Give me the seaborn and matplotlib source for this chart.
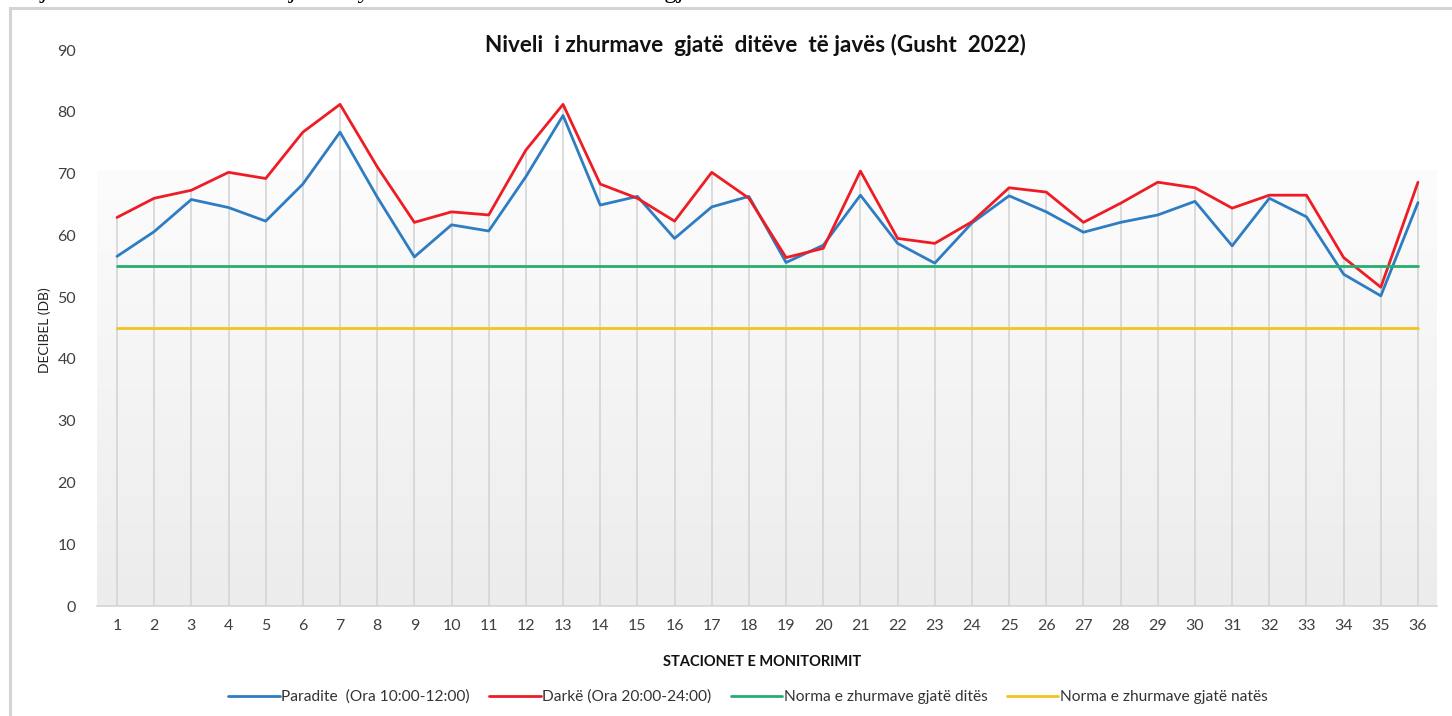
import numpy as np
import pandas as pd
import matplotlib
matplotlib.use("Agg")
import matplotlib.pyplot as plt
from matplotlib.patches import Rectangle
from matplotlib.lines import Line2D
import seaborn as sns

stations = list(range(1, 37))
paradite = [56.6, 60.6, 65.8, 64.5, 62.3, 68.3, 76.7, 66.2, 56.5, 61.7, 60.7, 69.5,
            79.4, 64.9, 66.3, 59.5, 64.6, 66.3, 55.6, 58.4, 66.5, 58.7, 55.5, 62.0,
            66.4, 63.8, 60.5, 62.1, 63.3, 65.5, 58.3, 66.0, 63.0, 53.7, 50.2, 65.3]
darke = [62.9, 66.0, 67.3, 70.2, 69.2, 76.7, 81.2, 71.1, 62.1, 63.8, 63.3, 73.8,
         81.2, 68.3, 66.0, 62.3, 70.2, 66.0, 56.4, 57.9, 70.4, 59.5, 58.7, 62.2,
         67.7, 67.0, 62.1, 65.2, 68.6, 67.7, 64.4, 66.5, 66.5, 56.4, 51.6, 68.6]
norma_dites = [55] * 36
norma_nates = [45] * 36

labels = ["Paradite  (Ora 10:00-12:00)", "Darkë (Ora 20:00-24:00)",
          "Norma e zhurmave gjatë ditës", "Norma e zhurmave gjatë natës"]
colors = ["#2e7dc2", "#ee1c25", "#27ae6e", "#f3c41a"]
title = "Niveli  i zhurmave  gjatë  ditëve  të javës (Gusht  2022)"
xlabel = "STACIONET E MONITORIMIT"
ylabel = "DECIBEL (DB)"
yticks = list(range(0, 91, 10))
caption = "Matjet e nivelit të zhurmave janë kryer në stacionet e monitorimit gjatë ditës."

sns.set_theme(style="white")
plt.rcParams["font.family"] = ["Lato", "DejaVu Sans"]

W, H = 1452, 716
fig = plt.figure(figsize=(W / 100, H / 100), dpi=100)

# clipped caption line from the page above the chart (only its lower edge is visible)
fig.text(0.0, 1 + 2 / H, caption, family=["Liberation Serif"], fontsize=18,
         color="black", va="baseline", ha="left")

# chart border
fig.patches.append(Rectangle((10 / W, -0.01), 1.0, (H - 8) / H + 0.01, transform=fig.transFigure,
                             fill=False, edgecolor="#d4d4d4", linewidth=2.2, zorder=0))

left, right, top, bottom = 97, 1437, 50, 606
ax = fig.add_axes([left / W, (H - bottom) / H, (right - left) / W, (bottom - top) / H])

xlo = 1 - (117 - left) / 37.17
xhi = 36 + (right - 1418) / 37.17
ax.set_xlim(xlo, xhi)
ax.set_ylim(0, 90)

# gradient plot-area fill
grad = np.linspace(0, 1, 256).reshape(-1, 1)
cmap = matplotlib.colors.LinearSegmentedColormap.from_list("g", ["#ececec", "#fcfcfc"])
ax.imshow(grad, extent=[xlo, xhi, 0, 70.5], origin="lower", aspect="auto", cmap=cmap, zorder=0)

# drop lines
tops = np.maximum(np.maximum(paradite, darke), norma_dites)
ax.vlines(stations, 0, tops, color="#d2d2d2", linewidth=1.1, zorder=1)

df = pd.DataFrame({"x": stations * 4,
                   "y": paradite + darke + norma_dites + norma_nates,
                   "s": sum([[l] * 36 for l in labels], [])})
sns.lineplot(data=df, x="x", y="y", hue="s", palette=dict(zip(labels, colors)),
             linewidth=2.0, ax=ax, legend=False, zorder=3)

for sp in ["left", "right", "top"]:
    ax.spines[sp].set_visible(False)
ax.spines["bottom"].set_color("#d4d4d4")
ax.spines["bottom"].set_linewidth(1.2)

ax.set_xticks(stations)
ax.set_xticklabels([str(s) for s in stations], fontsize=11.5, color="#404040")
ax.set_yticks(yticks)
ax.set_yticklabels([str(t) for t in yticks], fontsize=11.5, color="#404040")
ax.tick_params(axis="x", length=0, pad=9)
ax.tick_params(axis="y", length=0, pad=15)
ax.set_xlabel("")
ax.set_ylabel("")

fig.text(45 / W, 1 - 330 / H, ylabel, rotation=90, ha="center", va="center", fontsize=10, color="#222222")
fig.text(762 / W, 1 - 662 / H, xlabel, ha="center", va="center", fontsize=10.5, fontweight="bold", color="#111111")
fig.text(755 / W, 1 - 45 / H, title, ha="center", va="center", fontsize=16.2, fontweight="bold", color="#111111")

handles = [Line2D([], [], color=c, linewidth=2.0) for c in colors]
fig.legend(handles, labels, loc="center", bbox_to_anchor=(748 / W, 1 - 697 / H), ncol=4,
           frameon=False, fontsize=11.2, handlelength=3.3, handletextpad=0.1, columnspacing=1.25,
           labelcolor="#333333")

fig.savefig("out.png", dpi=100, facecolor="white")
